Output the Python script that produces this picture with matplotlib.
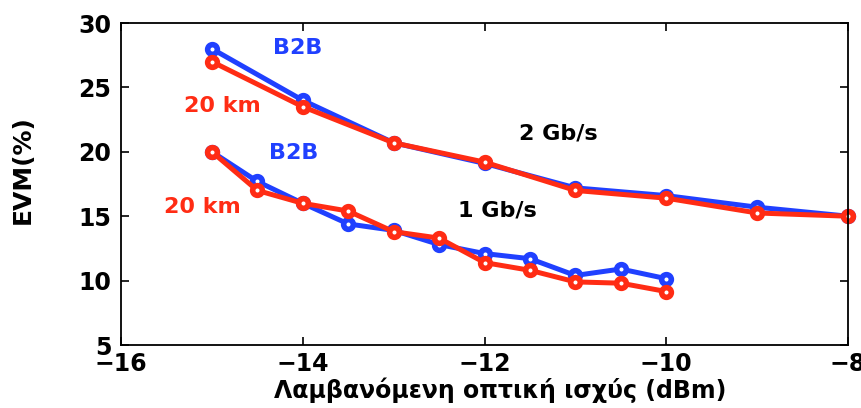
import matplotlib
matplotlib.use("Agg")
import matplotlib.pyplot as plt

plt.rcParams['font.family'] = ['DejaVu Sans']

# Received optical power (dBm)
power_2g = [-15, -14, -13, -12, -11, -10, -9, -8]
power_1g = [-15, -14.5, -14, -13.5, -13, -12.5, -12, -11.5, -11, -10.5, -10]

# EVM (%) at 2 Gb/s
evm_2g_b2b = [28.0, 24.0, 20.7, 19.1, 17.2, 16.6, 15.7, 15.0]
evm_2g_20km = [27.0, 23.5, 20.7, 19.2, 17.0, 16.4, 15.25, 15.0]

# EVM (%) at 1 Gb/s
evm_1g_b2b = [20.0, 17.7, 16.0, 14.4, 13.9, 12.8, 12.1, 11.7, 10.4, 10.9, 10.15]
evm_1g_20km = [20.0, 17.0, 16.0, 15.4, 13.8, 13.3, 11.4, 10.8, 9.9, 9.8, 9.15]

x_ticks = [-16, -14, -12, -10, -8]
y_ticks = [5, 10, 15, 20, 25, 30]

BLUE = '#2040ff'
RED = '#ff2c14'

fig = plt.figure(figsize=(8.62, 4.08), dpi=100)
ax = fig.add_axes([0.1404, 0.1544, 0.8434, 0.7892])

style = dict(lw=3.6, marker='o', markersize=7, markerfacecolor='white',
             markeredgewidth=4, clip_on=False)
ax.plot(power_2g, evm_2g_b2b, color=BLUE, **style)
ax.plot(power_1g, evm_1g_b2b, color=BLUE, **style)
ax.plot(power_2g, evm_2g_20km, color=RED, **style)
ax.plot(power_1g, evm_1g_20km, color=RED, **style)

ax.set_xlim(-16, -8)
ax.set_ylim(5, 30)
ax.set_xticks(x_ticks)
ax.set_yticks(y_ticks)
ax.tick_params(direction='in', length=6, width=1.2, top=True, right=True,
               labelsize=17)
ax.tick_params(axis='x', pad=5)
ax.tick_params(axis='y', pad=7)
for lab in ax.get_xticklabels() + ax.get_yticklabels():
    lab.set_fontweight('bold')
for sp in ax.spines.values():
    sp.set_linewidth(1.3)

ax.set_ylabel('EVM(%)', fontsize=18, fontweight='bold')
ax.yaxis.set_label_coords(-0.118, 0.545)
ax.set_xlabel('Λαμβανόμενη οπτική ισχύς (dBm)', fontsize=17,
              fontweight='bold', va='center')
ax.xaxis.set_label_coords(0.522, -0.14)

tk = dict(fontsize=16, fontweight='bold', ha='center', va='center')
ax.text(-14.06, 28.06, 'B2B', color=BLUE, **tk)
ax.text(-14.89, 23.56, '20 km', color=RED, **tk)
ax.text(-14.10, 19.9, 'B2B', color=BLUE, **tk)
ax.text(-15.11, 15.71, '20 km', color=RED, **tk)
ax.text(-11.19, 21.46, '2 Gb/s', color='black', **tk)
ax.text(-11.86, 15.48, '1 Gb/s', color='black', **tk)

fig.savefig('out.png', dpi=100)
